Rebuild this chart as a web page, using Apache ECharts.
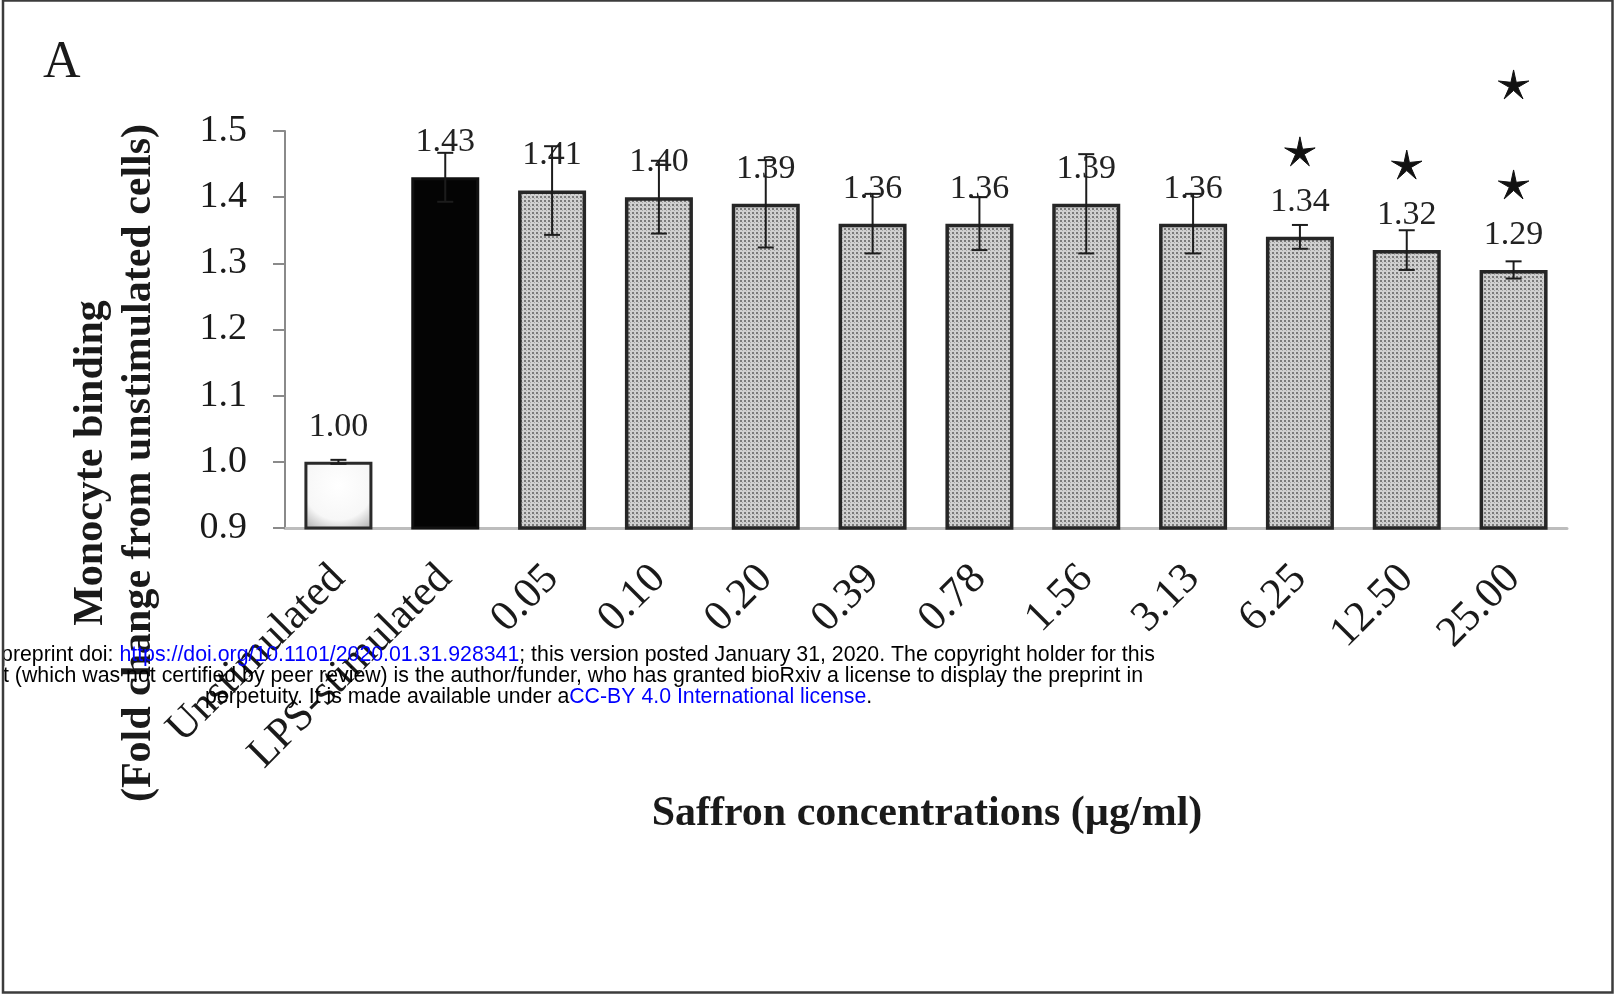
<!DOCTYPE html>
<html>
<head>
<meta charset="utf-8">
<script src="https://cdn.jsdelivr.net/npm/echarts@6/dist/echarts.min.js"></script>
<style>
  html, body { margin: 0; padding: 0; background: #ffffff; }
  #chart { width: 1614px; height: 995px; }
</style>
</head>
<body>
<div id="chart"></div>
<script>
// Groups on the x axis
const categories = ['Unstimulated', 'LPS-stimulated', '0.05', '0.10', '0.20', '0.39',
                    '0.78', '1.56', '3.13', '6.25', '12.50', '25.00'];
// Mean monocyte binding (fold change from unstimulated cells)
const meanBinding = [1.00, 1.43, 1.41, 1.40, 1.39, 1.36, 1.36, 1.39, 1.36, 1.34, 1.32, 1.29];
// Standard deviation drawn as error bars
const errorSD = [0.003, 0.037, 0.067, 0.055, 0.066, 0.045, 0.040, 0.075, 0.045, 0.018, 0.030, 0.013];
// Number of significance asterisks above each group
const significanceStars = [0, 0, 0, 0, 0, 0, 0, 0, 0, 1, 1, 2];
// Value axis range
const yMin = 0.9, yMax = 1.5, yStep = 0.1;

const SERIF = "'Liberation Serif', 'Times New Roman', serif";
const SANS = "'Liberation Sans', Arial, sans-serif";

// Stippled fill used for the saffron-treated groups
function dotPattern() {
  const c = document.createElement('canvas');
  c.width = 4; c.height = 4;
  const g = c.getContext('2d');
  g.fillStyle = '#d0d0d0';
  g.fillRect(0, 0, 4, 4);
  g.fillStyle = '#7a7a7a';
  g.fillRect(0, 0, 2, 2);
  g.fillStyle = '#a4a4a4';
  g.fillRect(2, 2, 1, 1);
  return c;
}
const stipple = { image: dotPattern(), repeat: 'repeat' };

function barStyle(i) {
  if (i === 0) {
    return {
      color: { type: 'radial', x: 0.5, y: 0.35, r: 0.85,
        colorStops: [{ offset: 0, color: '#ffffff' }, { offset: 0.6, color: '#f7f7f7' }, { offset: 1, color: '#a0a0a0' }] },
      borderColor: '#2a2a2a', borderWidth: 3
    };
  }
  if (i === 1) {
    return { color: '#040404', borderColor: '#111111', borderWidth: 3 };
  }
  return { color: stipple, borderColor: '#262626', borderWidth: 3.5 };
}

const barData = meanBinding.map((v, i) => ({ value: v, itemStyle: barStyle(i) }));
const errData = categories.map((c, i) => [i, meanBinding[i], errorSD[i], significanceStars[i]]);

function starPoints(cx, cy, ro, ri) {
  const pts = [];
  for (let j = 0; j < 10; j++) {
    const a = -Math.PI / 2 + j * Math.PI / 5;
    const r = j % 2 === 0 ? ro : ri;
    pts.push([cx + r * Math.cos(a), cy + r * Math.sin(a)]);
  }
  return pts;
}

function renderErrorBar(params, api) {
  const i = api.value(0), m = api.value(1), e = api.value(2), n = api.value(3);
  const hi = api.coord([i, m + e]);
  const lo = api.coord([i, m - e]);
  const base = api.coord([i, m]);
  const cap = 8;
  const ink = { stroke: '#1c1c1c', lineWidth: 2 };
  const children = [
    { type: 'line', shape: { x1: hi[0], y1: hi[1], x2: lo[0], y2: lo[1] }, style: ink },
    { type: 'line', shape: { x1: hi[0] - cap, y1: hi[1], x2: hi[0] + cap, y2: hi[1] }, style: ink },
    { type: 'line', shape: { x1: lo[0] - cap, y1: lo[1], x2: lo[0] + cap, y2: lo[1] }, style: ink }
  ];
  for (let k = 0; k < n; k++) {
    children.push({
      type: 'polygon',
      shape: { points: starPoints(base[0], base[1] - 84 - 100 * k, 16, 4.5) },
      style: { fill: '#111111', stroke: '#111111', lineWidth: 1, lineJoin: 'round' }
    });
  }
  return { type: 'group', children };
}

const chart = echarts.init(document.getElementById('chart'), null, { renderer: 'canvas' });

const footerRich = {
  k: { fill: '#000000', fontSize: 21.3, fontFamily: SANS },
  u: { fill: '#0000ff', fontSize: 21.3, fontFamily: SANS }
};

chart.setOption({
  backgroundColor: '#ffffff',
  animation: false,
  grid: { left: 285, right: 47, top: 131, bottom: 467, containLabel: false, outerBoundsMode: 'none' },
  xAxis: {
    type: 'category',
    data: categories,
    axisLine: { show: true, lineStyle: { color: '#bdbdbd', width: 3 } },
    axisTick: { show: false },
    axisLabel: {
      interval: 0, rotate: 45, margin: 44,
      fontFamily: SERIF, fontSize: 43, color: '#1a1a1a'
    },
    splitLine: { show: false }
  },
  yAxis: {
    type: 'value',
    min: yMin, max: yMax, interval: yStep,
    axisLine: { show: true, lineStyle: { color: '#8a8a8a', width: 2 } },
    axisTick: { show: true, length: 12, lineStyle: { color: '#8a8a8a', width: 2 } },
    axisLabel: {
      margin: 38, fontFamily: SERIF, fontSize: 38, color: '#1a1a1a',
      formatter: v => v.toFixed(1)
    },
    splitLine: { show: false }
  },
  series: [
    {
      type: 'bar',
      data: barData,
      barWidth: 68,
      label: {
        show: true, position: 'top', distance: 18,
        fontFamily: SERIF, fontSize: 34, color: '#222222',
        formatter: p => p.value.toFixed(2)
      },
      z: 2
    },
    {
      type: 'custom',
      data: errData,
      encode: { x: 0, y: 1 },
      renderItem: renderErrorBar,
      clip: false,
      z: 3
    }
  ],
  graphic: [
    {
      type: 'rect', silent: true, z: 100,
      shape: { x: 3, y: 0.5, width: 1609.5, height: 992 },
      style: { fill: 'none', stroke: '#3c3c3c', lineWidth: 2.5 }
    },
    {
      type: 'text', silent: true,
      style: { text: 'A', x: 43, y: 63, textAlign: 'left', textVerticalAlign: 'middle',
               font: "52px " + SERIF, fill: '#1a1a1a' }
    },
    {
      type: 'text', silent: true, x: 91, y: 463, rotation: Math.PI / 2,
      style: { text: 'Monocyte binding', x: 0, y: 0, textAlign: 'center', textVerticalAlign: 'middle',
               font: "bold 42px " + SERIF, fill: '#1a1a1a' }
    },
    {
      type: 'text', silent: true, x: 139, y: 463, rotation: Math.PI / 2,
      style: { text: '(Fold change from unstimulated cells)', x: 0, y: 0, textAlign: 'center', textVerticalAlign: 'middle',
               font: "bold 42px " + SERIF, fill: '#1a1a1a' }
    },
    {
      type: 'text', silent: true,
      style: { text: 'Saffron concentrations (µg/ml)', x: 927, y: 814, textAlign: 'center', textVerticalAlign: 'middle',
               font: "bold 42px " + SERIF, fill: '#1a1a1a' }
    },
    {
      type: 'text', silent: true, z: 50,
      style: {
        text: '{k|preprint doi: }{u|https://doi.org/10.1101/2020.01.31.928341}{k|; this version posted January 31, 2020. The copyright holder for this}',
        x: 1155, y: 655, textAlign: 'right', textVerticalAlign: 'middle',
        font: "21.3px " + SANS, rich: footerRich
      }
    },
    {
      type: 'text', silent: true, z: 50,
      style: {
        text: 't (which was not certified by peer review) is the author/funder, who has granted bioRxiv a license to display the preprint in',
        x: 1143, y: 676, textAlign: 'right', textVerticalAlign: 'middle',
        font: "21.3px " + SANS, fill: '#000000'
      }
    },
    {
      type: 'text', silent: true, z: 50,
      style: {
        text: '{k|perpetuity. It is made available under a}{u|CC-BY 4.0 International license}{k|.}',
        x: 205, y: 697, textAlign: 'left', textVerticalAlign: 'middle',
        font: "21.3px " + SANS, rich: footerRich
      }
    }
  ]
});
</script>
</body>
</html>
